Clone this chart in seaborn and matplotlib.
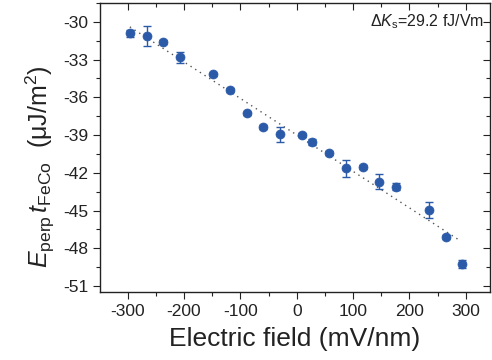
import matplotlib
matplotlib.use("Agg")
import matplotlib.pyplot as plt
import seaborn as sns
import numpy as np
import pandas as pd
from matplotlib.ticker import MultipleLocator

field = [-296, -265, -237, -207, -148, -118, -89, -60, -30, 10, 28, 58, 88, 117, 146, 176, 235, 265, 293]
energy = [-30.92, -31.11, -31.61, -32.83, -34.18, -35.40, -37.28, -38.39, -38.95, -39.00, -39.53,
          -40.40, -41.65, -41.57, -42.71, -43.10, -44.96, -47.12, -49.25]
err = [0.25, 0.77, 0.15, 0.47, 0.15, 0.15, 0.15, 0.15, 0.62, 0.15, 0.25,
       0.15, 0.66, 0.15, 0.58, 0.25, 0.66, 0.15, 0.30]
fit_x = [-296, 290]
fit_y = [-30.4, -47.4]
xticks = [-300, -200, -100, 0, 100, 200, 300]
yticks = [-30, -33, -36, -39, -42, -45, -48, -51]

df = pd.DataFrame({"field": field, "energy": energy, "err": err})

sns.set_theme(style="ticks")
plt.rcParams["font.family"] = ["Liberation Sans", "DejaVu Sans"]
plt.rcParams["mathtext.fontset"] = "custom"
plt.rcParams["mathtext.rm"] = "Liberation Sans"
plt.rcParams["mathtext.it"] = "Liberation Sans:italic"

fig = plt.figure(figsize=(4.92, 3.6), dpi=100)
ax = fig.add_axes([100/492, 1-292/360, 390/492, 289/360])

blue = "#2a5aa8"
sns.lineplot(x=fit_x, y=fit_y, ax=ax, color="#555555", linestyle=(0, (1, 3)), linewidth=1.0)
ax.errorbar(df["field"], df["energy"], yerr=df["err"], fmt="none", ecolor=blue,
            elinewidth=1.0, capsize=3, capthick=1.0, zorder=2)
sns.scatterplot(data=df, x="field", y="energy", ax=ax, color=blue, s=42, edgecolor=blue,
                linewidth=0.5, zorder=3)

ax.set_xlim(-349, 343)
ax.set_ylim(-51.48, -28.5)
ax.set_xticks(xticks)
ax.set_yticks(yticks)
ax.set_xticklabels([str(v) for v in xticks])
ax.set_yticklabels([str(v) for v in yticks])
ax.xaxis.set_minor_locator(MultipleLocator(50))
ax.yaxis.set_minor_locator(MultipleLocator(1.5))
ax.tick_params(which="both", direction="out", top=True, right=True, labelsize=12.5,
               colors="#222222", width=0.8)
ax.tick_params(which="major", length=5)
ax.tick_params(which="minor", length=3)
# top/right ticks inward
for t in ax.xaxis.get_major_ticks() + ax.xaxis.get_minor_ticks():
    t.tick2line.set_marker(3)
for t in ax.yaxis.get_major_ticks() + ax.yaxis.get_minor_ticks():
    t.tick2line.set_marker(0)
for sp in ax.spines.values():
    sp.set_visible(True)
    sp.set_linewidth(1.0)
    sp.set_color("#222222")

ax.set_xlabel("Electric field (mV/nm)", fontsize=19, color="#222222")
ax.xaxis.set_label_coords(0.5, -0.12)
ax.set_ylabel(r"$E_{\rm perp}\,t_{\rm FeCo}$  (μJ/m$^2$)", fontsize=18, color="#222222")
ax.yaxis.label.set_va("center")
ax.yaxis.set_label_coords(-0.152, 0.434)

ax.text(0.985, 0.935, r"$\Delta K_{\rm s}$=29.2 fJ/Vm", transform=ax.transAxes,
        ha="right", va="center", fontsize=11.5, color="#222222")

fig.savefig("out.png", dpi=100)
